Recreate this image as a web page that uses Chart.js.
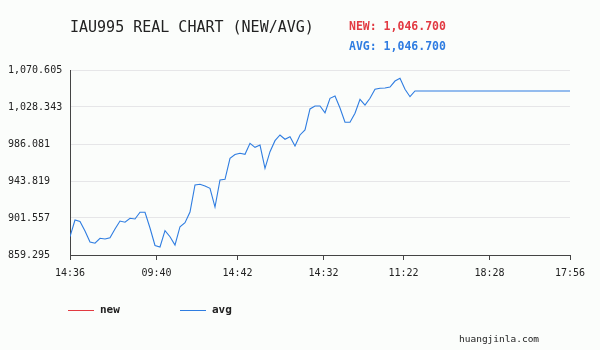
<!DOCTYPE html>
<html>
<head>
<meta charset="utf-8">
<script src="https://cdn.jsdelivr.net/npm/chart.js@4/dist/chart.umd.min.js"></script>
<style>
    body { margin: 0; background: #fbfdfb; }
    #wrap { position: relative; width: 600px; height: 350px; background: #fbfdfb; font-family: 'DejaVu Sans Mono', monospace; color: #222; }
    #wrap canvas { position: absolute; left: 0; top: 0; }
    .txt { position: absolute; white-space: nowrap; line-height: 1; }
    .title { left: 70px; top: 20px; font-size: 15px; }
    .cur { left: 349px; font-size: 11.5px; font-weight: bold; }
    .lg-line { position: absolute; height: 1px; width: 26px; top: 310px; }
    .lg-txt { top: 304px; font-size: 11px; font-weight: bold; }
    .site { left: 459px; top: 334px; font-size: 9.5px; }
</style>
</head>
<body>
<div id="wrap">
    <canvas id="goldChart" width="600" height="350"></canvas>
    <div class="txt title">IAU995 REAL CHART (NEW/AVG)</div>
    <div class="txt cur" id="newLabel" style="top:21px;color:#e23a41;"></div>
    <div class="txt cur" id="avgLabel" style="top:41px;color:#2f7de1;"></div>
    <div class="lg-line" style="left:68px;background:#e23a41;"></div>
    <div class="txt lg-txt" style="left:100px;">new</div>
    <div class="lg-line" style="left:180px;background:#2f7de1;"></div>
    <div class="txt lg-txt" style="left:212px;">avg</div>
    <div class="txt site">huangjinla.com</div>
</div>
<script>
// sample values (avg), one per quote
const avgValues = [
    880.2, 899.3, 897.6, 886.7, 874.1, 872.7, 878.4, 877.6, 879.1, 889.0,
    898.1, 896.7, 901.2, 900.4, 908.1, 908.1, 890.1, 870.2, 868.4, 887.1,
    880.2, 870.7, 891.6, 896.2, 908.4, 939.3, 940.1, 938.1, 935.5, 914.1,
    945.0, 945.8, 969.8, 974.1, 975.5, 974.3, 986.9, 982.3, 984.9, 958.3,
    977.3, 989.9, 996.4, 991.5, 994.4, 983.8, 996.4, 1002.1, 1026.1, 1029.5,
    1029.5, 1021.8, 1038.3, 1040.9, 1027.2, 1010.9, 1010.9, 1021.2, 1037.1, 1030.6,
    1038.3, 1048.6, 1049.7, 1050.1, 1051.2, 1058.0, 1061.1, 1048.6, 1040.1, 1046.7
];
const lastIndex = 100;          // end of the session on the time axis
const newValue = 1046.7;
const avgValue = 1046.7;

const xTickIndex = [0, 17.3, 33.5, 50.7, 66.7, 83.9, 100];
const xTickLabels = ['14:36', '09:40', '14:42', '14:32', '11:22', '18:28', '17:56'];
const yTicks = [859.295, 901.557, 943.819, 986.081, 1028.343, 1070.605];

const fmt = (v, d) => v.toLocaleString('en-US', { minimumFractionDigits: d, maximumFractionDigits: d });

const GoldChart = {
    chart: null,

    init() {
        document.getElementById('newLabel').textContent = 'NEW: ' + fmt(newValue, 3);
        document.getElementById('avgLabel').textContent = 'AVG: ' + fmt(avgValue, 3);

        // quotes, then the flat tail up to the end of the axis
        const points = avgValues.map((v, i) => ({ x: i, y: v }));
        points.push({ x: lastIndex, y: avgValues[avgValues.length - 1] });

        this.chart = new Chart(document.getElementById('goldChart'), {
            type: 'line',
            data: {
                datasets: [
                    {
                        label: 'new',
                        data: [],
                        borderColor: '#e23a41',
                        borderWidth: 1
                    },
                    {
                        label: 'avg',
                        data: points,
                        borderColor: '#2f7de1',
                        borderWidth: 1.1,
                        pointRadius: 0,
                        tension: 0,
                        fill: false
                    }
                ]
            },
            options: this.getOptions()
        });
    },

    getOptions() {
        const tickFont = { family: "'DejaVu Sans Mono', monospace", size: 10 };
        return {
            responsive: false,
            animation: false,
            layout: { padding: { left: 8, top: 70, right: 30, bottom: 65 } },
            plugins: { legend: { display: false }, tooltip: { enabled: false } },
            scales: {
                x: {
                    type: 'linear',
                    min: 0,
                    max: lastIndex,
                    afterBuildTicks: (s) => { s.ticks = xTickIndex.map(v => ({ value: v })); },
                    afterFit: (s) => { s.height = 30; },
                    ticks: {
                        autoSkip: false,
                        maxRotation: 0,
                        padding: 7,
                        color: '#222',
                        font: tickFont,
                        callback: (v, i) => xTickLabels[i]
                    },
                    grid: { drawOnChartArea: false, drawTicks: true, tickLength: 5, color: '#444' },
                    border: { display: true, color: '#444', width: 1 }
                },
                y: {
                    min: yTicks[0],
                    max: yTicks[yTicks.length - 1],
                    afterBuildTicks: (s) => { s.ticks = yTicks.map(v => ({ value: v })); },
                    afterFit: (s) => { s.width = 62; },
                    ticks: {
                        crossAlign: 'far',
                        padding: 4,
                        color: '#222',
                        font: tickFont,
                        callback: (v) => fmt(v, 3)
                    },
                    grid: { drawTicks: false, color: '#e6e6e8' },
                    border: { display: true, color: '#444', width: 1 }
                }
            }
        };
    }
};

GoldChart.init();
</script>
</body>
</html>
